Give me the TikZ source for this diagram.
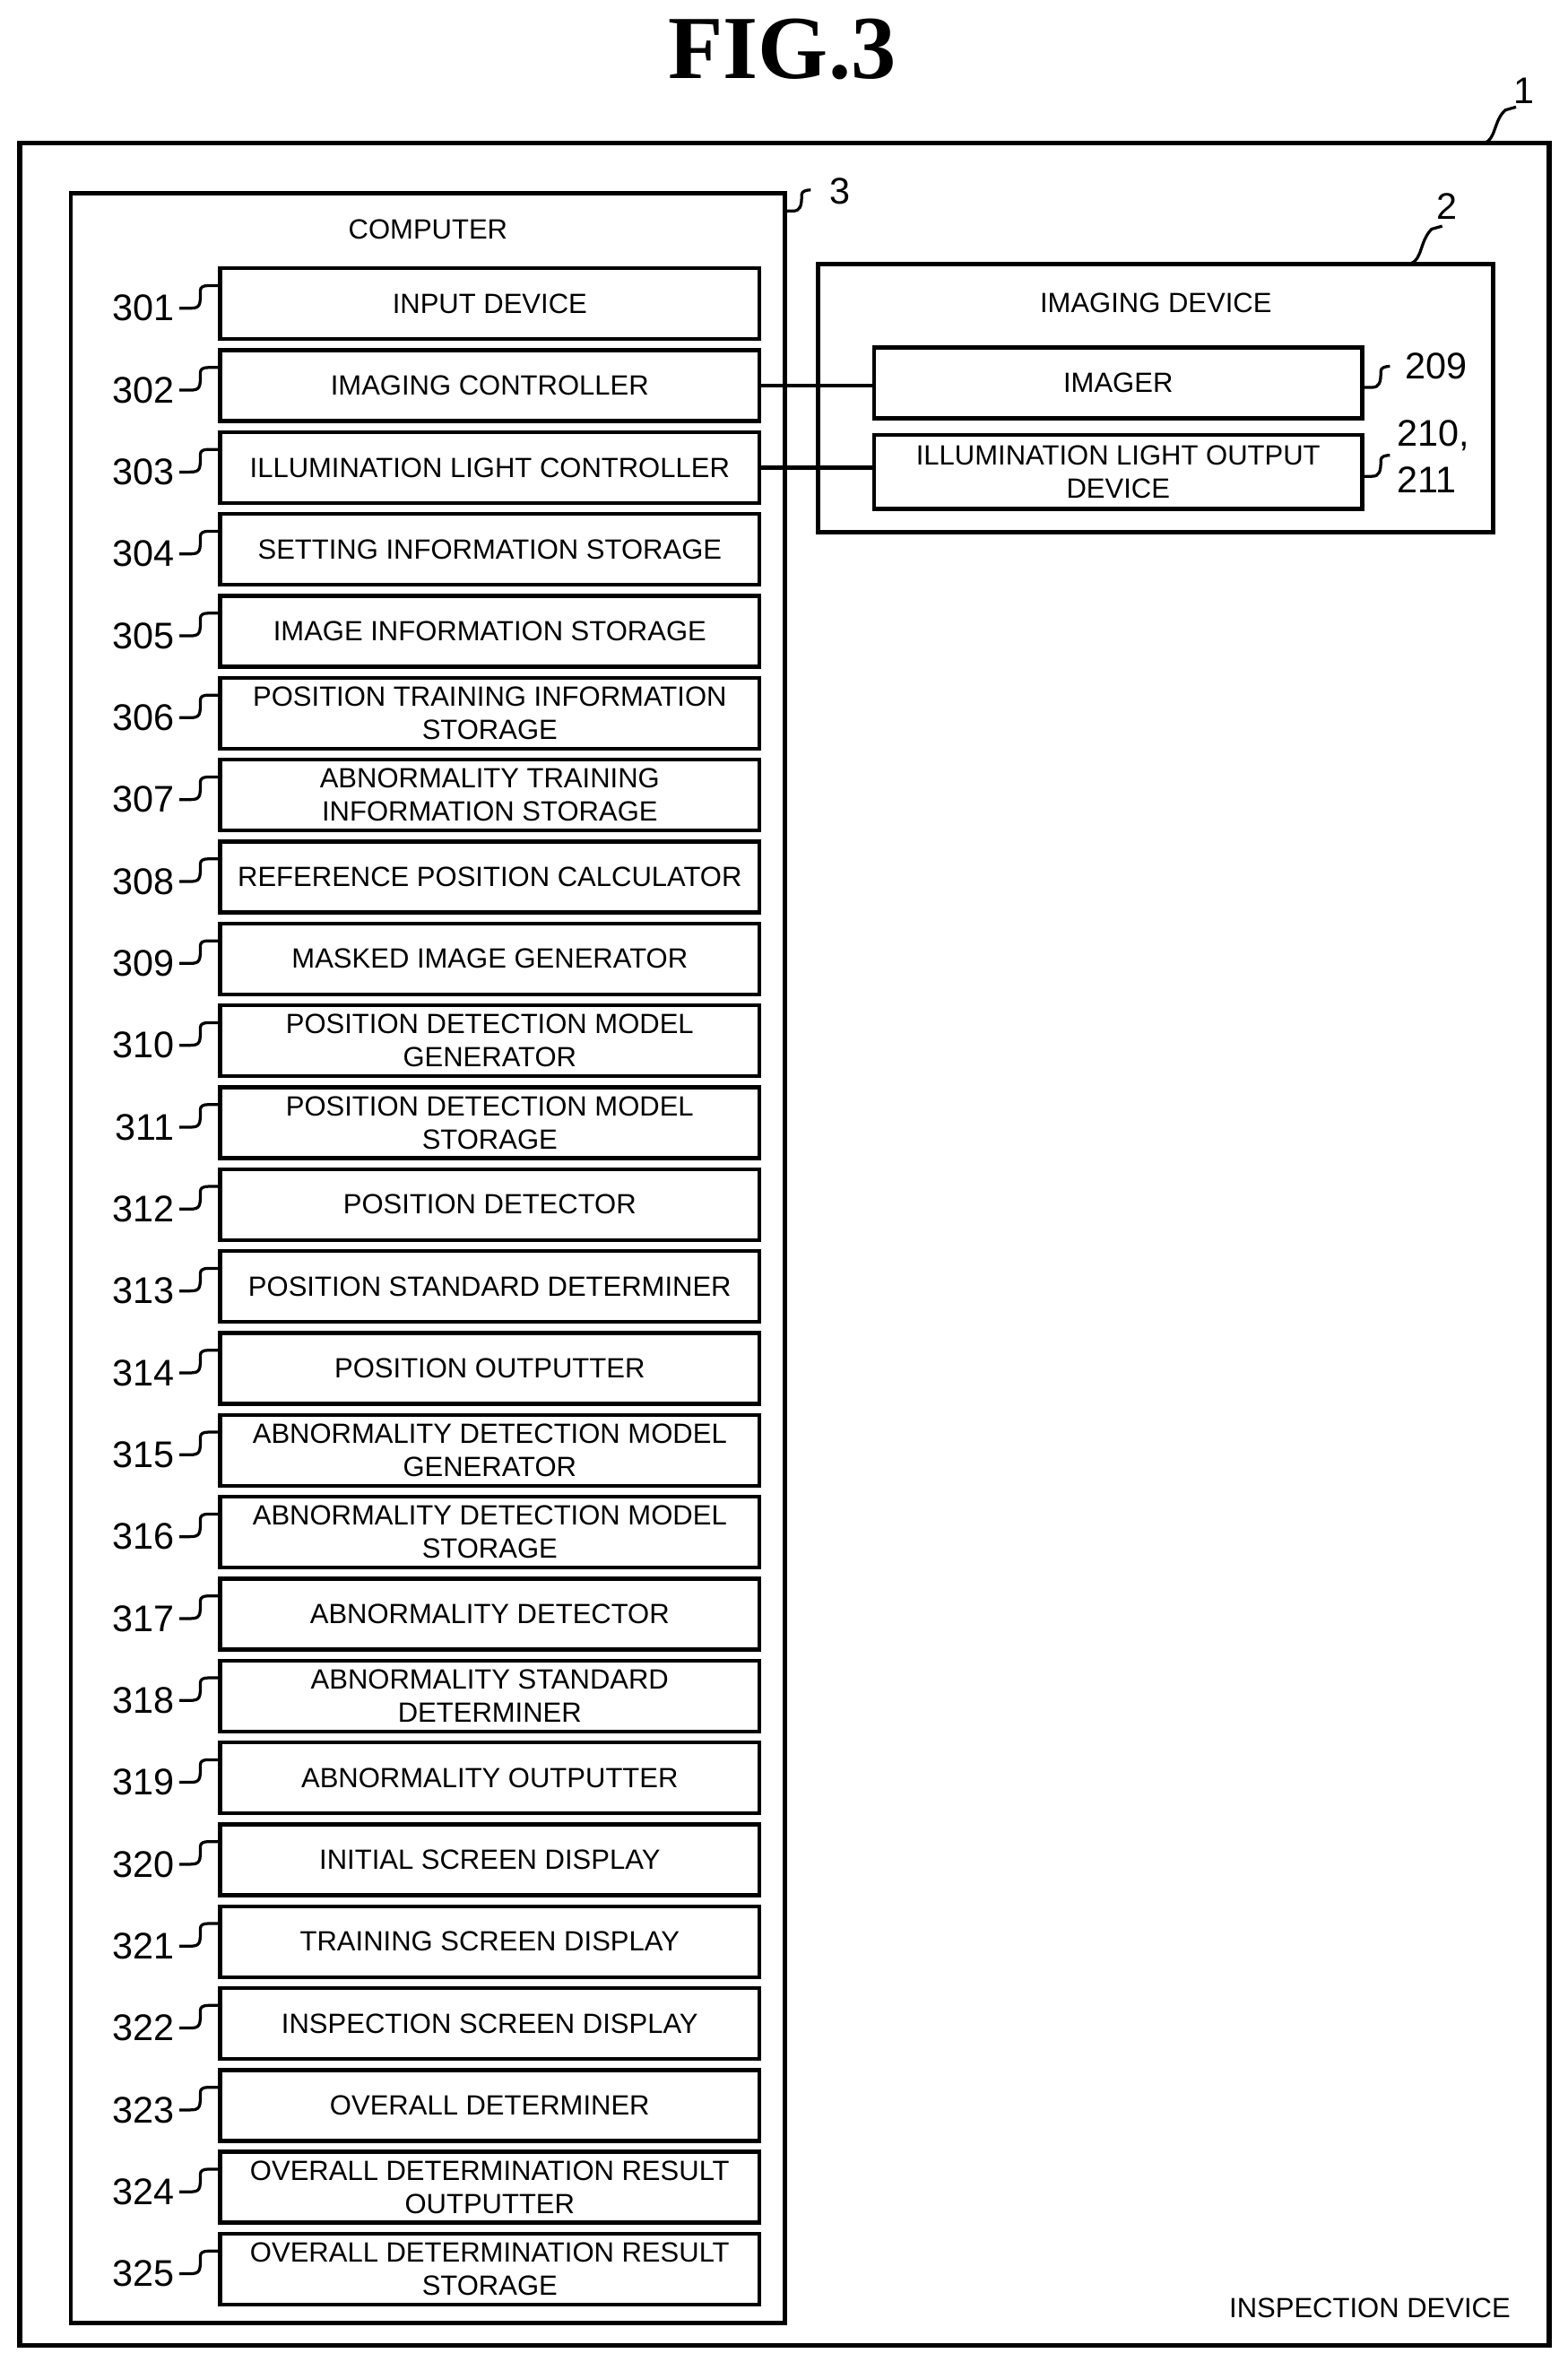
\documentclass[tikz,border=0pt]{standalone}
\usepackage{fontspec}
\setmainfont{Liberation Sans}
\newfontfamily\titlefont{Liberation Serif}
\begin{document}
\begin{tikzpicture}[x=0.02cm,y=-0.02cm,
  blk/.style={draw,line width=1.5pt,minimum width=358*0.02cm,minimum height=47*0.02cm,inner sep=0pt,align=center,font=\fontsize{10.5}{12.5}\selectfont},
  num/.style={font=\fontsize{14}{16}\selectfont,anchor=east,inner sep=0pt},
  lead/.style={line width=1.1pt},
  txt/.style={font=\fontsize{10.5}{12.5}\selectfont,inner sep=0pt}]
\useasboundingbox (0,0) rectangle (1040,1567);
\node[font=\titlefont\bfseries\fontsize{34}{36}\selectfont] (title) at (519,33) {FIG.3};
\draw[line width=1.8pt] (13,95) rectangle (1028,1556);
\draw[line width=1.6pt] (47,128) rectangle (521,1541);
\node[txt] (comp) at (284,152) {COMPUTER};
\node[txt] (insp) at (909,1531) {INSPECTION DEVICE};
\foreach \n/\t [count=\i from 0] in {
301/{INPUT DEVICE},
302/{IMAGING CONTROLLER},
303/{ILLUMINATION LIGHT CONTROLLER},
304/{SETTING INFORMATION STORAGE},
305/{IMAGE INFORMATION STORAGE},
306/{POSITION TRAINING INFORMATION\\STORAGE},
307/{ABNORMALITY TRAINING\\INFORMATION STORAGE},
308/{REFERENCE POSITION CALCULATOR},
309/{MASKED IMAGE GENERATOR},
310/{POSITION DETECTION MODEL\\GENERATOR},
311/{POSITION DETECTION MODEL\\STORAGE},
312/{POSITION DETECTOR},
313/{POSITION STANDARD DETERMINER},
314/{POSITION OUTPUTTER},
315/{ABNORMALITY DETECTION MODEL\\GENERATOR},
316/{ABNORMALITY DETECTION MODEL\\STORAGE},
317/{ABNORMALITY DETECTOR},
318/{ABNORMALITY STANDARD\\DETERMINER},
319/{ABNORMALITY OUTPUTTER},
320/{INITIAL SCREEN DISPLAY},
321/{TRAINING SCREEN DISPLAY},
322/{INSPECTION SCREEN DISPLAY},
323/{OVERALL DETERMINER},
324/{OVERALL DETERMINATION RESULT\\OUTPUTTER},
325/{OVERALL DETERMINATION RESULT\\STORAGE}} {
  \pgfmathsetmacro\yc{201.5+54.33*\i}
  \node[blk] (b\n) at (325,\yc) {\t};
  \node[num] (n\n) at (116,\yc+3) {\n};
  \draw[lead] (n\n.east) ++(3,0) -- ++(7,0) .. controls ++(7,0) and ++(0,10) .. ++(7,-12) .. controls ++(0,-2) and ++(-3,0) .. ++(5,-3) -- (b\n.west |- 0,\yc-12);
}
% imaging device
\draw[line width=1.6pt] (543,175) rectangle (991,353);
\node[txt] (imd) at (767,201) {IMAGING DEVICE};
\node[blk,minimum width=324*0.02cm] (imager) at (742,254) {IMAGER};
\node[blk,minimum width=324*0.02cm,minimum height=49*0.02cm] (illum) at (742,313) {ILLUMINATION LIGHT OUTPUT\\DEVICE};
\draw[line width=1.5pt] (b302.east) -- (imager.west |- b302.east);
\draw[line width=1.5pt] (b303.east) -- (illum.west |- b303.east);
% ref labels
\node[num,anchor=west] (l209) at (932,243) {209};
\node[num,anchor=west,align=left,font=\fontsize{14}{17.5}\selectfont] (l210) at (927,303) {210,\\211};
\draw[lead] (imager.east) ++(0,3) -- ++(5,0) .. controls ++(5,0) and ++(0,8) .. ++(6,-11) .. controls ++(0,-2) and ++(-3,0) .. ++(6,-3);
\draw[lead] (illum.east) ++(0,3) -- ++(5,0) .. controls ++(5,0) and ++(0,8) .. ++(6,-11) .. controls ++(0,-2) and ++(-3,0) .. ++(6,-3);
\node[num,anchor=west] (l3) at (550,127) {3};
\draw[lead] (521,140) -- ++(5,0) .. controls ++(5,0) and ++(0,8) .. ++(6,-11) .. controls ++(0,-2) and ++(-3,0) .. ++(6,-3);
\node[num,anchor=west] (l2) at (953,137) {2};
\draw[lead] (936,175) .. controls (944,172) and (942,160) .. (950,152) -- (957,150);
\node[num,anchor=west] (l1) at (1004,60) {1};
\draw[lead] (985,95) .. controls (993,92) and (991,80) .. (999,73) -- (1006,71);
\end{tikzpicture}
\end{document}
